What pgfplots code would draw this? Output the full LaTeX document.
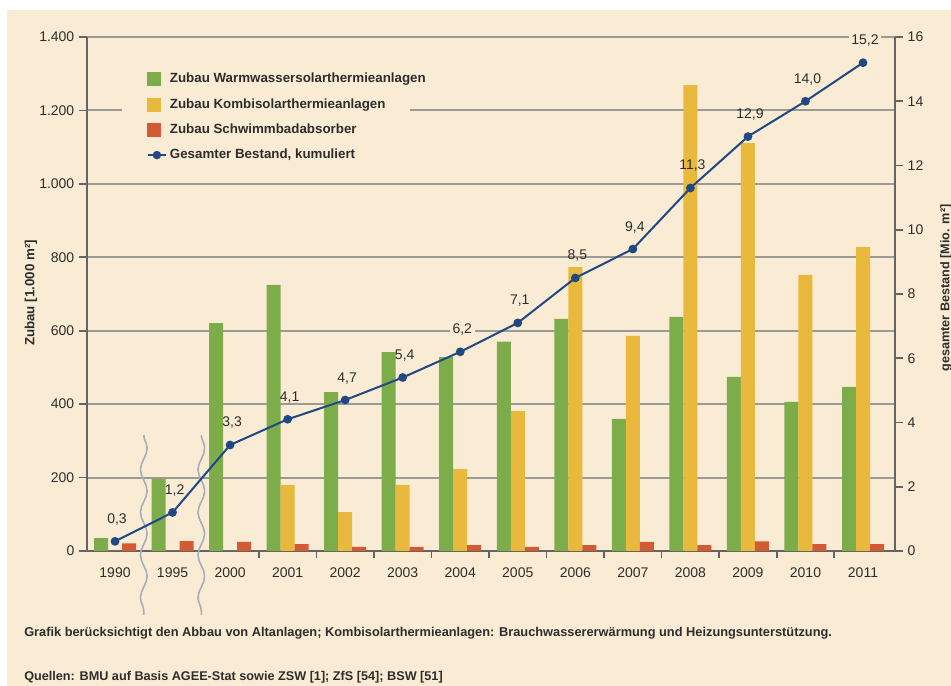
\documentclass[border=0pt]{standalone}
\usepackage{fontspec}
\setmainfont{Liberation Sans}
\usepackage{pgfplots}
\usepackage{pgfplotstable}
\pgfplotsset{compat=1.18}
\usetikzlibrary{decorations.pathmorphing}
\definecolor{bg}{RGB}{250,236,212}
\definecolor{cgreen}{RGB}{125,173,75}
\definecolor{cyellow}{RGB}{232,185,60}
\definecolor{cred}{RGB}{210,90,52}
\definecolor{cblue}{RGB}{32,72,130}
\definecolor{cgrid}{RGB}{155,155,150}
\definecolor{caxis}{RGB}{100,100,100}
\definecolor{cwave}{RGB}{165,175,185}
\definecolor{ctext}{RGB}{45,45,45}
\DeclareRobustCommand\lb[1]{{\setlength\fboxsep{2pt}\colorbox{bg}{#1}}}
\pgfplotsset{
  sqg/.style={legend image code/.code={\fill[cgreen] (0pt,-4.9pt) rectangle (9.75pt,4.9pt);}},
  sqy/.style={legend image code/.code={\fill[cyellow] (0pt,-4.9pt) rectangle (9.75pt,4.9pt);}},
  sqr/.style={legend image code/.code={\fill[cred] (0pt,-4.9pt) rectangle (9.75pt,4.9pt);}},
}
\pgfplotstableread{
x g y r
0 35 0 21
1 196 0 27
2 621 0 25
3 725 180 19
4 433 106 11
5 542 180 11
6 528 223 16
7 570 381 11
8 632 773 16
9 360 586 25
10 638 1269 16
11 474 1111 26
12 406 752 19
13 447 828 19
}\bars
\pgfplotstableread{
x v lab
0 0.3 0,3
1 1.2 1,2
2 3.3 3,3
3 4.1 4,1
4 4.7 4,7
5 5.4 5,4
6 6.2 \lb{6,2}
7 7.1 7,1
8 8.5 8,5
9 9.4 9,4
10 11.3 11,3
11 12.9 12,9
12 14.0 14,0
13 15.2 \lb{15,2}
}\total
\begin{document}
\begin{tikzpicture}[x=1pt,y=1pt]
\useasboundingbox (0,0) rectangle (713.25,514.5);
\fill[white] (0,0) rectangle (713.25,514.5);
\fill[bg] (5.25,0) rectangle (713.25,507);
\begin{axis}[
  at={(65.25pt,101.25pt)}, anchor=south west,
  scale only axis, width=606pt, height=385.5pt,
  xmin=-0.487, xmax=13.556, ymin=0, ymax=1400,
  axis x line*=bottom, axis y line*=left,
  axis line style={caxis, line width=1.5pt, -},
  every outer x axis line/.append style={-},
  every outer y axis line/.append style={-},
  ybar=0pt, bar width=10.5pt,
  ytick={0,200,...,1400},
  ymajorgrids, grid style={cgrid, line width=1.5pt},
  xtick={0,...,13},
  xticklabels={1990,1995,2000,2001,2002,2003,2004,2005,2006,2007,2008,2009,2010,2011},
  xtick style={/pgfplots/major tick length=0pt},
  minor xtick={2.5,3.5,...,12.5}, minor tick length=5pt,
  tick align=outside, major tick length=6pt,
  tick style={caxis, line width=1.2pt},
  /pgf/number format/.cd, 1000 sep={.}, assume math mode=true, /pgfplots/.cd,
  ticklabel style={font=\fontsize{10.5}{12}\selectfont, text=ctext},
  xticklabel style={yshift=-3pt},
  clip=false,
]
\fill[bg] (rel axis cs:0.0433,0.751) rectangle (rel axis cs:0.3998,0.951);
\addplot[fill=cgreen, draw=none] table[x=x,y=g]{\bars};
\addplot[fill=cyellow, draw=none] table[x=x,y=y]{\bars};
\addplot[fill=cred, draw=none] table[x=x,y=r]{\bars};
\draw[cwave, line width=1.2pt, decorate, decoration={snake, amplitude=2.5pt, segment length=32pt}] (axis cs:0.5,316) -- (axis cs:0.5,-174);
\draw[cwave, line width=1.2pt, decorate, decoration={snake, amplitude=2.5pt, segment length=32pt}] (axis cs:1.5,316) -- (axis cs:1.5,-174);
\end{axis}
\begin{axis}[
  at={(65.25pt,101.25pt)}, anchor=south west,
  scale only axis, width=606pt, height=385.5pt,
  xmin=-0.487, xmax=13.556, ymin=0, ymax=16,
  axis y line*=right, axis x line=none,
  axis line style={caxis, line width=1.5pt, -},
  every outer y axis line/.append style={-},
  ytick={0,2,...,16},
  tick align=outside, major tick length=6pt,
  tick style={caxis, line width=1.2pt},
  /pgf/number format/.cd, assume math mode=true, /pgfplots/.cd,
  ticklabel style={font=\fontsize{10.5}{12}\selectfont, text=ctext},
  clip=false,
  legend cell align=left,
  legend style={at={(0.0668,0.9455)}, anchor=north west, fill=none, draw=none,
    font=\bfseries\fontsize{10}{12}\selectfont, text=ctext, row sep=6.25pt,
    inner xsep=4pt, inner ysep=4pt},
]
\addlegendimage{sqg}\addlegendentry{Zubau Warmwassersolarthermieanlagen}
\addlegendimage{sqy}\addlegendentry{Zubau Kombisolarthermieanlagen}
\addlegendimage{sqr}\addlegendentry{Zubau Schwimmbadabsorber}
\addplot[cblue, line width=1.5pt, mark=*, mark size=2.5pt,
  legend image code/.code={\draw[cblue,line width=1.5pt] (0pt,0pt)--(14pt,0pt); \fill[cblue] (7pt,0pt) circle (2.4pt);},
  point meta=explicit symbolic, nodes near coords,
  every node near coord/.append style={anchor=base, yshift=13.5pt, xshift=1.5pt, inner sep=1pt,
    font=\fontsize{10.5}{12}\selectfont, text=ctext}]
  table[x=x,y=v,meta=lab]{\total};
\addlegendentry{Gesamter Bestand, kumuliert}
\end{axis}
\node[rotate=90, font=\bfseries\fontsize{10}{12}\selectfont, text=ctext] at (23.25,294.75) {Zubau [1.000 m²]};
\node[rotate=90, font=\bfseries\fontsize{9.5}{12}\selectfont, text=ctext] at (709.5,298.5) {gesamter Bestand [Mio. m²]};
\node[anchor=west, inner sep=0pt, font=\bfseries\fontsize{9.6}{11}\selectfont, text=ctext] at (18,39.75) {Grafik berücksichtigt den Abbau von Altanlagen; Kombisolarthermieanlagen: Brauchwassererwärmung und Heizungsunterstützung.};
\node[anchor=west, inner sep=0pt, font=\bfseries\fontsize{9.5}{11}\selectfont, text=ctext] at (18,6.75) {Quellen: BMU auf Basis AGEE-Stat sowie ZSW [1]; ZfS [54]; BSW [51]};
\end{tikzpicture}
\end{document}
